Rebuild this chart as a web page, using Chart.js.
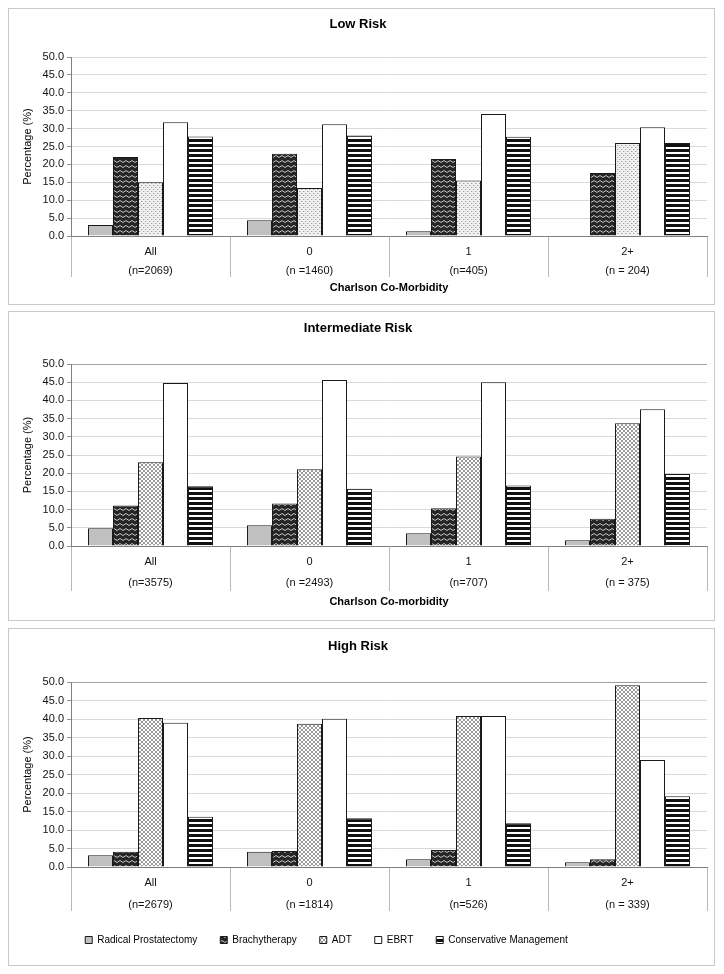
<!DOCTYPE html>
<html><head><meta charset="utf-8">
<script src="https://cdn.jsdelivr.net/npm/chart.js@4.4.0/dist/chart.umd.min.js"></script>
<style>
html,body{margin:0;padding:0;background:#fff;}
body{width:724px;height:974px;position:relative;overflow:hidden;}
.panel{position:absolute;left:8px;width:705px;border:1px solid #c8c8c8;background:#fff;}
.panel canvas{position:absolute;left:0;top:0;}
</style></head><body>
<div class="panel" style="top:8px;height:295px;"><canvas id="c1" width="705" height="295"></canvas></div>
<div class="panel" style="top:311px;height:308px;"><canvas id="c2" width="705" height="308"></canvas></div>
<div class="panel" style="top:628px;height:336px;"><canvas id="c3" width="705" height="336"></canvas></div>
<script>
// ---- data ----
const categories = ["All", "0", "1", "2+"];
const seriesNames = ["Radical Prostatectomy", "Brachytherapy", "ADT", "EBRT", "Conservative Management"];

const lowN = ["(n=2069)", "(n =1460)", "(n=405)", "(n = 204)"];
const lowRP = [3.1, 4.4, 1.3, 0];
const lowBrachy = [22.1, 23.0, 21.5, 17.6];
const lowADT = [15.0, 13.4, 15.5, 26.0];
const lowEBRT = [31.8, 31.2, 34.1, 30.4];
const lowCM = [27.8, 28.1, 27.7, 26.0];

const intN = ["(n=3575)", "(n =2493)", "(n=707)", "(n = 375)"];
const intRP = [4.9, 5.7, 3.5, 1.6];
const intBrachy = [11.1, 11.7, 10.4, 7.5];
const intADT = [23.0, 21.1, 24.6, 33.7];
const intEBRT = [44.8, 45.6, 45.0, 37.6];
const intCM = [16.4, 15.7, 16.6, 19.8];

const highN = ["(n=2679)", "(n =1814)", "(n=526)", "(n = 339)"];
const highRP = [3.2, 4.1, 2.1, 1.3];
const highBrachy = [4.1, 4.3, 4.6, 2.1];
const highADT = [40.3, 38.7, 40.8, 49.1];
const highEBRT = [39.0, 40.1, 40.8, 28.9];
const highCM = [13.6, 13.2, 11.8, 19.1];

const yTicks = [0, 5, 10, 15, 20, 25, 30, 35, 40, 45, 50];

// ---- styling ----
Chart.defaults.font.family = '"Liberation Sans", Arial, sans-serif';
Chart.defaults.color = '#000';

function pattern(w, h, draw) {
  const c = document.createElement('canvas');
  c.width = w; c.height = h;
  const g = c.getContext('2d');
  draw(g);
  return g.createPattern(c, 'repeat');
}
const brachyPat = pattern(6, 5, g => {
  g.fillStyle = '#262626'; g.fillRect(0, 0, 6, 5);
  g.strokeStyle = '#c4c4c4'; g.lineWidth = 1;
  g.beginPath(); g.moveTo(0, 3.5); g.lineTo(3, 1.5); g.lineTo(6, 3.5); g.stroke();
});
const adtLight = pattern(4, 4, g => {
  g.fillStyle = '#f2f2f2'; g.fillRect(0, 0, 4, 4);
  g.fillStyle = '#9c9c9c'; g.fillRect(0, 0, 1, 1); g.fillRect(2, 2, 1, 1);
  g.fillStyle = '#cfcfcf'; g.fillRect(1, 0, 1, 1); g.fillRect(3, 2, 1, 1);
});
const adtDark = pattern(4, 4, g => {
  g.fillStyle = '#ffffff'; g.fillRect(0, 0, 4, 4);
  g.fillStyle = '#6e6e6e';
  g.beginPath(); g.arc(1, 1, 0.95, 0, Math.PI * 2); g.fill();
  g.beginPath(); g.arc(3, 3, 0.95, 0, Math.PI * 2); g.fill();
});
const cmPat = pattern(1, 5, g => {
  g.fillStyle = '#ffffff'; g.fillRect(0, 0, 1, 5);
  g.fillStyle = '#111111'; g.fillRect(0, 0, 1, 3);
});

const legendShift = {
  id: 'legendShift',
  afterLayout(chart, args, opts) {
    if (chart.legend && opts && opts.dx) {
      chart.legend.left += opts.dx;
      chart.legend.right += opts.dx;
    }
  }
};

function makeChart(id, p) {
  const labels = categories.map((c, i) => [c, p.n[i]]);
  const fills = ['#c0c0c0', brachyPat, p.adt, '#ffffff', cmPat];
  const values = [p.rp, p.brachy, p.adtv, p.ebrt, p.cm];
  const datasets = seriesNames.map((name, i) => ({
    label: name,
    data: values[i],
    backgroundColor: fills[i],
    borderColor: '#1a1a1a',
    borderWidth: 1,
    categoryPercentage: 0.786,
    barPercentage: 1.0
  }));
  return new Chart(document.getElementById(id), {
    type: 'bar',
    data: { labels, datasets },
    plugins: [legendShift],
    options: {
      responsive: false,
      animation: false,
      devicePixelRatio: 1,
      events: [],
      layout: { padding: { left: 0, right: 7, top: 0, bottom: p.padB } },
      plugins: {
        tooltip: { enabled: false },
        title: {
          display: true, text: p.title, color: '#000',
          font: { size: 13, weight: 'bold' },
          padding: { top: p.tPadT, bottom: p.tPadB }
        },
        legend: p.legend ? {
          display: true, position: 'bottom',
          labels: { boxWidth: 7, boxHeight: 7, padding: 23, font: { size: 10 }, color: '#000' }
        } : { display: false },
        legendShift: { dx: p.legend ? -31.5 : 0 }
      },
      scales: {
        x: {
          offset: true,
          grid: {
            offset: true,
            drawOnChartArea: p.border,
            color: ctx => ctx.index === categories.length ? '#a0a0a0' : 'rgba(0,0,0,0)',
            tickColor: '#b8b8b8',
            tickLength: p.tl
          },
          border: { display: true, color: '#808080', width: 1 },
          ticks: {
            color: '#111', autoSkip: false, maxRotation: 0,
            font: { size: 11, lineHeight: p.lh },
            padding: p.tickPad
          },
          title: p.xTitle ? {
            display: true, text: p.xTitle, color: '#000',
            font: { size: 11, weight: 'bold' },
            padding: { top: 0, bottom: p.xTitlePad }
          } : { display: false },
          afterFit: s => { s.height = p.xh; }
        },
        y: {
          min: 0, max: 50,
          afterBuildTicks: s => { s.ticks = yTicks.map(v => ({ value: v })); },
          ticks: { color: '#111', font: { size: 11 }, padding: 3, callback: v => Number(v).toFixed(1) },
          grid: {
            color: ctx => (p.border && ctx.tick && ctx.tick.value === 50) ? '#a0a0a0' : '#d9d9d9',
            tickColor: '#909090', tickLength: 4
          },
          border: { display: true, color: '#808080', width: 1 },
          title: {
            display: true, text: 'Percentage (%)', color: '#000',
            font: { size: 11 }, padding: { top: 12.4, bottom: 0 }
          },
          afterFit: s => { s.width = 62; }
        }
      }
    }
  });
}

makeChart('c1', {
  title: 'Low Risk', n: lowN, adt: adtLight,
  rp: lowRP, brachy: lowBrachy, adtv: lowADT, ebrt: lowEBRT, cm: lowCM,
  tPadT: 7.2, tPadB: 25.2, xh: 68, padB: 0, tl: 41, lh: 19 / 11, tickPad: -35,
  xTitle: 'Charlson Co-Morbidity', xTitlePad: 9.4, border: false, legend: false
});
makeChart('c2', {
  title: 'Intermediate Risk', n: intN, adt: adtDark,
  rp: intRP, brachy: intBrachy, adtv: intADT, ebrt: intEBRT, cm: intCM,
  tPadT: 8.2, tPadB: 28.2, xh: 74, padB: 0, tl: 45, lh: 21 / 11, tickPad: -39.5,
  xTitle: 'Charlson Co-morbidity', xTitlePad: 11.4, border: true, legend: false
});
makeChart('c3', {
  title: 'High Risk', n: highN, adt: adtDark,
  rp: highRP, brachy: highBrachy, adtv: highADT, ebrt: highEBRT, cm: highCM,
  tPadT: 9.2, tPadB: 28.2, xh: 45, padB: 10, tl: 44, lh: 2, tickPad: -39,
  xTitle: null, xTitlePad: 0, border: true, legend: true
});
</script>
</body></html>
